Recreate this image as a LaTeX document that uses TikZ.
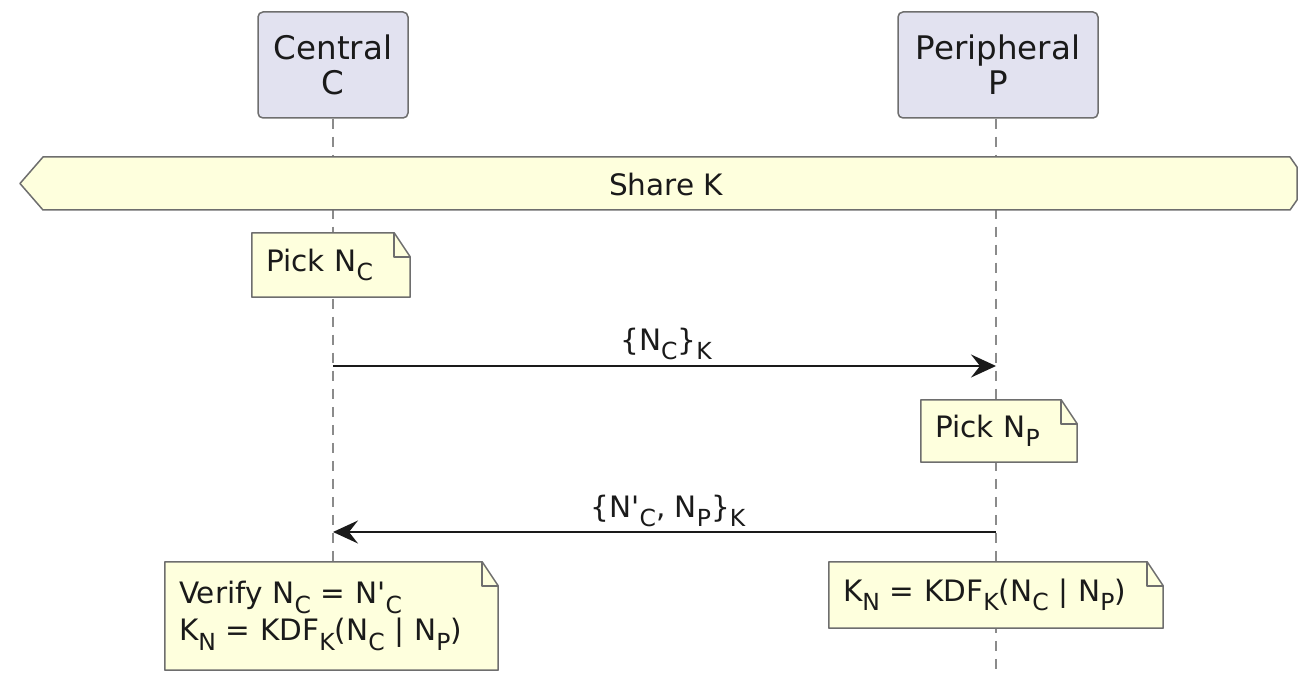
\documentclass[tikz,border=0pt]{standalone}
\usepackage{fontspec}
\usetikzlibrary{arrows.meta}
\newfontfamily\djv{DejaVu Sans}
\definecolor{partfill}{HTML}{E2E2F0}
\definecolor{notefill}{HTML}{FEFFDD}
\definecolor{edge}{HTML}{6E6E6E}
\definecolor{ink}{HTML}{1A1A1A}
\newcommand\sub[1]{\raisebox{-0.32em}{\fontsize{23.5}{25}\selectfont #1}}
\tikzset{
  base/.style={font=\djv\fontsize{29.5}{37}\selectfont, text=ink},
  participant/.style={font=\djv\fontsize{32.5}{35}\selectfont, text=ink, draw=edge,
    line width=1.5pt, fill=partfill, rounded corners=5pt, align=center, inner sep=0pt},
  note/.style={base, inner xsep=14pt, inner ysep=0pt, align=left},
  noteline/.style={draw=edge, line width=1.5pt, line join=round},
  lifeline/.style={draw=edge!80, line width=1.5pt, dash pattern=on 10pt off 8pt},
  msg/.style={draw=ink, line width=2pt, -{Stealth[length=25pt,width=23pt,inset=9pt]}},
  lbl/.style={base, inner sep=0pt},
}
% folded-corner note outline, filled, drawn behind the note text
\newcommand\notebox[1]{%
  \begin{pgfonlayer}{background}
  \draw[noteline, fill=notefill] (#1.south west) -- (#1.north west) -- ([xshift=-16pt]#1.north east)
    -- ([yshift=-24pt]#1.north east) -- (#1.south east) -- cycle;
  \draw[noteline] ([xshift=-16pt]#1.north east) -- ([xshift=-16pt,yshift=-24pt]#1.north east)
    -- ([yshift=-24pt]#1.north east);
  \end{pgfonlayer}}
\pgfdeclarelayer{background}
\pgfdeclarelayer{lines}
\pgfsetlayers{lines,background,main}
\begin{document}
\begin{tikzpicture}[x=1pt,y=-1pt]
\useasboundingbox (0,0) rectangle (1299,676);

% participants
\node[participant, minimum width=150pt, minimum height=106pt] (C) at (333,65) {Central\\C};
\node[participant, minimum width=200pt, minimum height=106pt] (P) at (998,65) {Peripheral\\P};

% lifelines
\coordinate (Cend) at (333,676);
\coordinate (Pend) at (996,676);
\begin{pgfonlayer}{lines}
\draw[lifeline] (C.south) -- (Cend);
\draw[lifeline] ([xshift=-2pt]P.south) -- (Pend);
\end{pgfonlayer}

% shared-key banner
\coordinate (bl) at (20,183.5);
\draw[fill=notefill, draw=edge, line width=1.5pt, line join=round]
  (bl) -- (43,157) -- (1290,157) -- (1297,167) -- (1297,200) -- (1290,210) -- (43,210) -- cycle;
\node[lbl] (share) at (666,185) {Share K};

% central picks its nonce
\node[note, minimum width=158pt, minimum height=64pt, text width=130pt] (n1) at (331,265)
  {Pick N\sub{C}};
\notebox{n1}

% first message
\coordinate (m1a) at (333,366);
\coordinate (m1b) at (996,366);
\draw[msg] (m1a) -- (m1b);
\node[lbl] (l1) at (666,344) {\{N\sub{C}\}\sub{K}};

% peripheral picks its nonce
\node[note, minimum width=156pt, minimum height=62pt, text width=128pt] (n2) at (999,431)
  {Pick N\sub{P}};
\notebox{n2}

% second message
\coordinate (m2a) at (996,532);
\coordinate (m2b) at (333,532);
\draw[msg] (m2a) -- (m2b);
\node[lbl] (l2) at (668,511) {\{N'\sub{C}, N\sub{P}\}\sub{K}};

% key derivation on both sides
\node[note, minimum width=333pt, minimum height=108pt, text width=305pt] (n3) at (331.5,616)
  {Verify N\sub{C} = N'\sub{C}\\K\sub{N} = KDF\sub{K}(N\sub{C} | N\sub{P})};
\notebox{n3}

\node[note, minimum width=334pt, minimum height=66pt, text width=306pt] (n4) at (996,595)
  {K\sub{N} = KDF\sub{K}(N\sub{C} | N\sub{P})};
\notebox{n4}
\end{tikzpicture}
\end{document}
